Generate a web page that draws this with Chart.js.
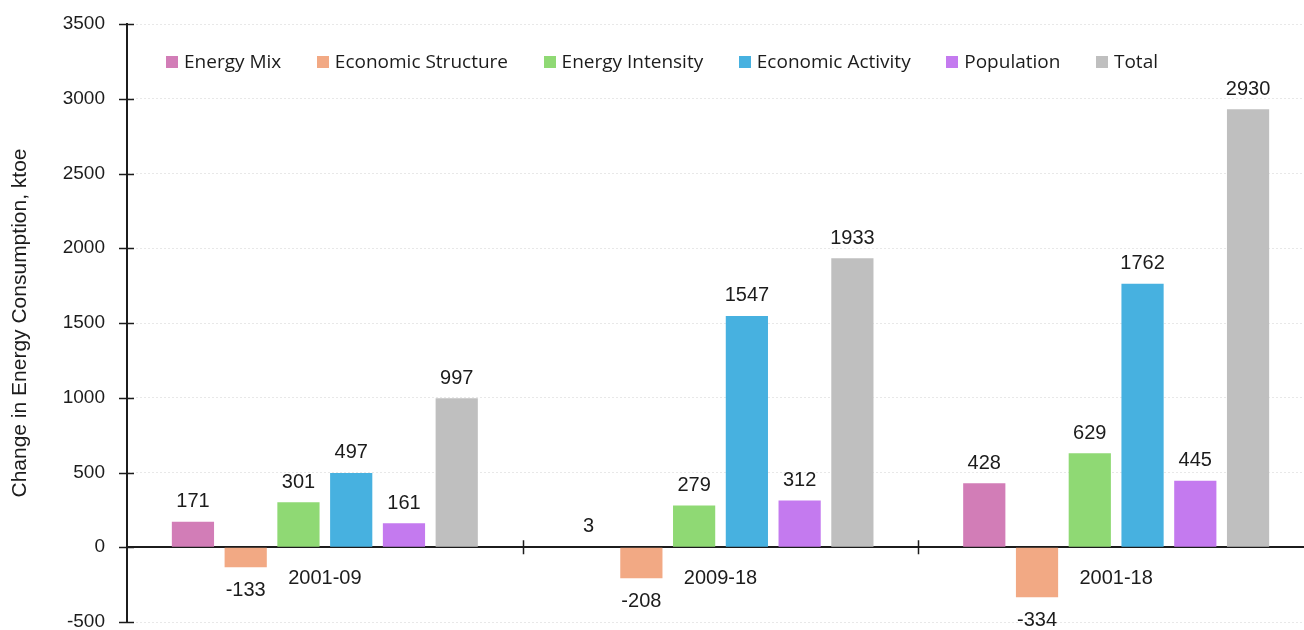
<!DOCTYPE html>
<html>
<head>
<meta charset="utf-8">
<title>Decomposition of change in energy consumption</title>
<script src="https://cdn.jsdelivr.net/npm/chart.js@4.4.1/dist/chart.umd.min.js"></script>
<style>
  html, body { margin: 0; padding: 0; background: #ffffff; overflow: hidden; }
  #wrap { position: relative; width: 1314px; height: 640px; }
</style>
</head>
<body>
<div id="wrap"><canvas id="chart"></canvas></div>
<script>
// Periods and decomposition effects (ktoe)
const periods = ['2001-09', '2009-18', '2001-18'];
const energyMix = [171, 3, 428];
const economicStructure = [-133, -208, -334];
const energyIntensity = [301, 279, 629];
const economicActivity = [497, 1547, 1762];
const population = [161, 312, 445];
const total = [997, 1933, 2930];

const seriesNames = ['Energy Mix', 'Economic Structure', 'Energy Intensity', 'Economic Activity', 'Population', 'Total'];
const seriesValues = [energyMix, economicStructure, energyIntensity, economicActivity, population, total];
const seriesColors = ['#D27DB7', '#F2A984', '#8FD974', '#47B1E0', '#C47AEF', '#BFBFBF'];

const yMin = -500, yMax = 3500, yStep = 500;
const axisTitle = 'Change in Energy Consumption, ktoe';

const INK = '#1c1c1c';
const NUM_FONT = 'Liberation Sans, Arial, sans-serif';
const LEGEND_FONT = '"Open Sans", Lato, sans-serif';

// Small cross-shaped tick marks on both axes
const crossTicks = {
  id: 'crossTicks',
  afterDraw(chart) {
    const { ctx, scales: { x, y } } = chart;
    const zeroY = y.getPixelForValue(0);
    ctx.save();
    ctx.strokeStyle = INK;
    ctx.lineWidth = 1.5;
    ctx.beginPath();
    y.ticks.forEach(t => {
      const py = Math.round(y.getPixelForValue(t.value)) + 0.5;
      ctx.moveTo(x.left - 8, py);
      ctx.lineTo(x.left + 7, py);
    });
    for (let i = 1; i < periods.length; i++) {
      const px = Math.round((x.getPixelForValue(i - 1) + x.getPixelForValue(i)) / 2) + 0.5;
      ctx.moveTo(px, zeroY - 7);
      ctx.lineTo(px, zeroY + 7);
    }
    ctx.stroke();
    ctx.restore();
  }
};

// Value labels above positive bars and below negative ones
const valueLabels = {
  id: 'valueLabels',
  afterDatasetsDraw(chart) {
    const { ctx } = chart;
    ctx.save();
    ctx.font = '20px ' + NUM_FONT;
    ctx.fillStyle = INK;
    ctx.textAlign = 'center';
    ctx.textBaseline = 'middle';
    chart.data.datasets.forEach((ds, di) => {
      const meta = chart.getDatasetMeta(di);
      meta.data.forEach((bar, i) => {
        const v = ds.data[i];
        const ty = v >= 0 ? bar.y - 20 : bar.y + 23;
        ctx.fillText(String(v), bar.x, ty);
      });
    });
    ctx.restore();
  }
};

// Single-row legend laid over the top of the plot, spread between two edges
const overlayLegend = {
  id: 'overlayLegend',
  afterDraw(chart) {
    const { ctx } = chart;
    const box = 12, gapText = 6, left = 166, right = 1158, cy = 62;
    ctx.save();
    ctx.font = '19px ' + LEGEND_FONT;
    ctx.textBaseline = 'middle';
    ctx.textAlign = 'left';
    const widths = seriesNames.map(n => ctx.measureText(n).width);
    const itemsW = widths.reduce((a, w) => a + box + gapText + w, 0);
    const gapItem = (right - left - itemsW) / (seriesNames.length - 1);
    let cx = left;
    seriesNames.forEach((n, i) => {
      ctx.fillStyle = seriesColors[i];
      ctx.fillRect(Math.round(cx), cy - box / 2, box, box);
      ctx.fillStyle = INK;
      ctx.fillText(n, cx + box + gapText, cy + 1);
      cx += box + gapText + widths[i] + gapItem;
    });
    ctx.restore();
  }
};

new Chart(document.getElementById('chart'), {
  type: 'bar',
  data: {
    labels: periods,
    datasets: seriesNames.map((name, i) => ({
      label: name,
      data: seriesValues[i],
      backgroundColor: seriesColors[i],
      borderWidth: 0,
      categoryPercentage: 0.8,
      barPercentage: 0.8
    }))
  },
  options: {
    responsive: true,
    maintainAspectRatio: false,
    animation: false,
    layout: { padding: { top: 24, bottom: 18, left: 0, right: 0 } },
    plugins: {
      legend: { display: false },
      tooltip: { enabled: false }
    },
    scales: {
      x: {
        position: { y: 0 },
        grid: { display: false, drawTicks: false },
        border: { display: true, color: INK, width: 2 },
        ticks: { color: INK, font: { family: NUM_FONT, size: 20 }, padding: 19, maxRotation: 0 },
        afterFit(scale) {
          scale.height = 0;
          scale.paddingTop = 0;
          scale.paddingBottom = 0;
        }
      },
      y: {
        min: yMin,
        max: yMax,
        ticks: {
          stepSize: yStep,
          color: INK,
          font: { family: NUM_FONT, size: 19 },
          padding: 22,
          callback: v => String(v)
        },
        grid: { color: 'rgba(0,0,0,0.09)', drawTicks: false, lineWidth: 1 },
        border: { display: true, color: INK, width: 2, dash: [2, 2] },
        title: {
          display: true,
          text: axisTitle,
          color: INK,
          font: { family: NUM_FONT, size: 21 },
          padding: { top: 8, bottom: 0 }
        },
        afterFit(scale) {
          scale.width = 127;
          scale.paddingTop = 0;
          scale.paddingBottom = 0;
        }
      }
    }
  },
  plugins: [crossTicks, valueLabels, overlayLegend]
});
</script>
</body>
</html>
